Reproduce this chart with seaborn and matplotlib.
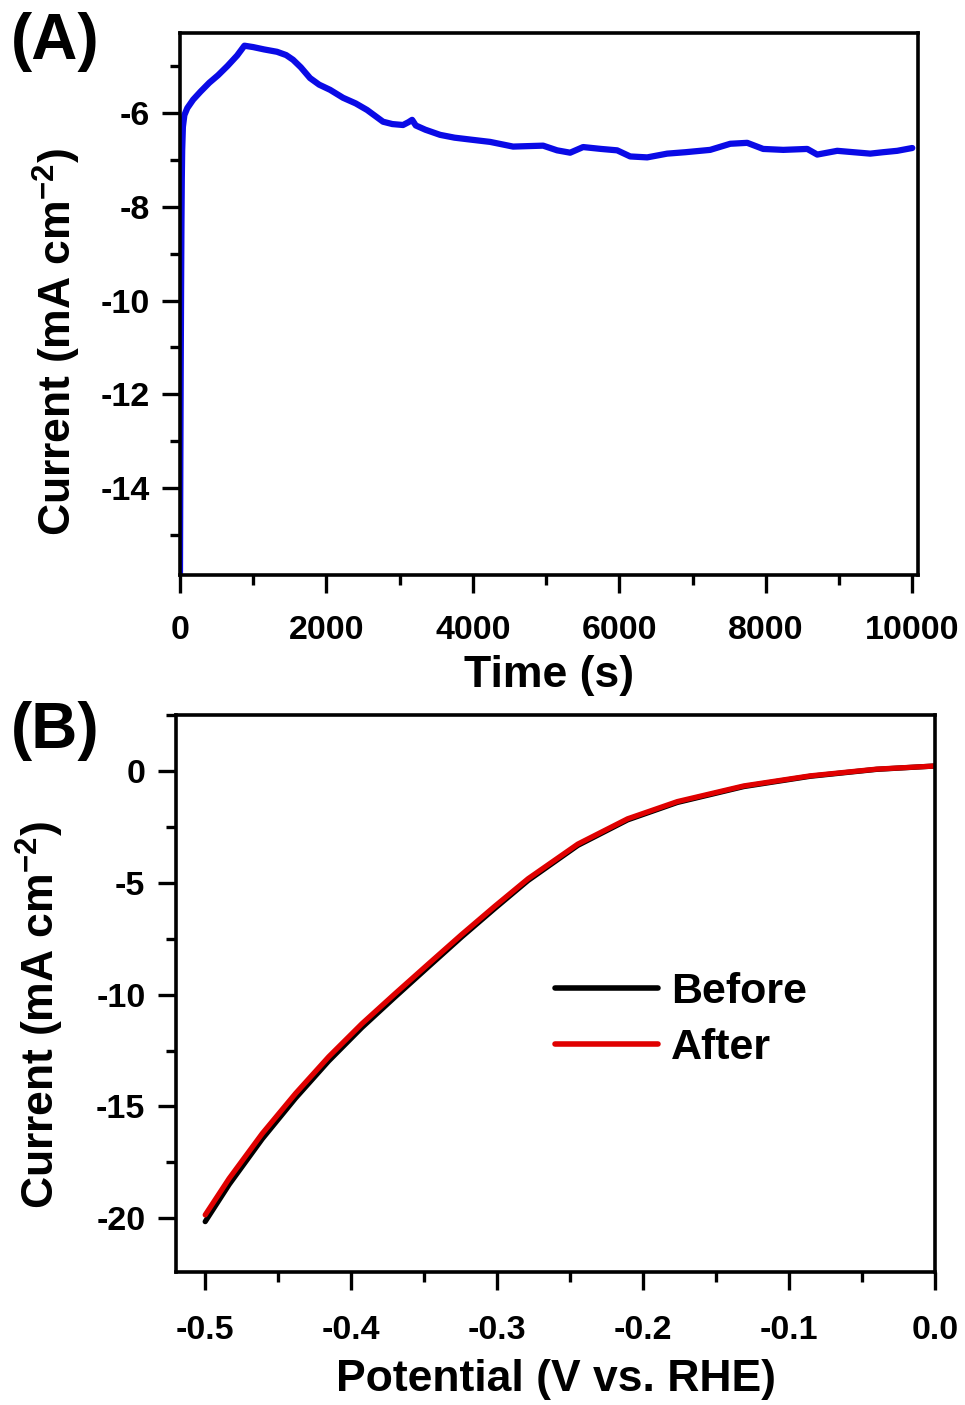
import matplotlib
matplotlib.use("Agg")
import matplotlib.pyplot as plt
from matplotlib.ticker import MultipleLocator, FixedLocator
import seaborn as sns
import pandas as pd

# ---------------- data ----------------
time_s = [0, 5, 10, 15, 20, 25, 30, 40, 60, 100, 180, 280, 400, 520, 650, 780, 880,
          1000, 1150, 1325, 1450, 1544, 1650, 1776, 1900, 2049, 2227, 2400, 2555,
          2773, 2900, 3046, 3120, 3170, 3220, 3350, 3552, 3750, 3962, 4235, 4549,
          4750, 4959, 5150, 5328, 5505, 5750, 5970, 6148, 6380, 6653, 6900, 7240,
          7514, 7746, 7964, 8238, 8566, 8702, 8975, 9200, 9426, 9600, 9795, 10000]
current_a = [-15.8, -13.5, -11.5, -9.8, -8.4, -7.4, -6.8, -6.3, -6.05, -5.9, -5.72,
             -5.55, -5.36, -5.2, -5.0, -4.78, -4.57, -4.6, -4.65, -4.70, -4.77,
             -4.87, -5.03, -5.26, -5.4, -5.51, -5.68, -5.8, -5.94, -6.19, -6.24,
             -6.26, -6.2, -6.15, -6.27, -6.36, -6.47, -6.53, -6.57, -6.62, -6.72,
             -6.71, -6.70, -6.80, -6.85, -6.73, -6.77, -6.80, -6.93, -6.95, -6.87,
             -6.84, -6.79, -6.66, -6.64, -6.77, -6.79, -6.77, -6.89, -6.81, -6.84,
             -6.87, -6.84, -6.81, -6.75]

potential = [-0.5, -0.4836, -0.4609, -0.4381, -0.4154, -0.3926, -0.3698, -0.3471,
             -0.3244, -0.3016, -0.2788, -0.2447, -0.2106, -0.1765, -0.131, -0.0855,
             -0.040, 0.0]
current_after = [-19.85, -18.22, -16.21, -14.42, -12.78, -11.30, -9.95, -8.63,
                 -7.32, -6.05, -4.82, -3.27, -2.14, -1.37, -0.67, -0.22, 0.08, 0.22]
current_before = [-20.15, -18.49, -16.45, -14.63, -12.97, -11.47, -10.10, -8.76,
                  -7.43, -6.15, -4.90, -3.33, -2.19, -1.41, -0.70, -0.24, 0.07, 0.22]

x_ticks_a = [0, 2000, 4000, 6000, 8000, 10000]
y_ticks_a = [-6, -8, -10, -12, -14]
x_ticks_b = [-0.5, -0.4, -0.3, -0.2, -0.1, 0.0]
y_ticks_b = [0, -5, -10, -15, -20]

# ---------------- style ----------------
sns.set_style("ticks")
plt.rcParams['font.family'] = ['Liberation Sans', 'DejaVu Sans']
plt.rcParams['font.weight'] = 'bold'
plt.rcParams['text.color'] = 'black'
plt.rcParams['axes.labelcolor'] = 'black'
plt.rcParams['xtick.color'] = 'black'
plt.rcParams['ytick.color'] = 'black'
plt.rcParams['axes.unicode_minus'] = False
plt.rcParams['mathtext.fontset'] = 'custom'
plt.rcParams['mathtext.rm'] = 'Liberation Sans:bold'
plt.rcParams['mathtext.bf'] = 'Liberation Sans:bold'
plt.rcParams['mathtext.it'] = 'Liberation Sans:bold'
plt.rcParams['mathtext.default'] = 'rm'

fig = plt.figure(figsize=(9.65, 14.05), dpi=100)
axA = fig.add_axes([0.1865, 0.5907, 0.9513 - 0.1865, 0.9765 - 0.5907])
axB = fig.add_axes([0.1824, 0.0947, 0.9689 - 0.1824, 0.4911 - 0.0947])

dfA = pd.DataFrame({"Time": time_s, "Current": current_a})
sns.lineplot(data=dfA, x="Time", y="Current", ax=axA, color="#0a0ae6", lw=4.5,
             estimator=None, sort=False)

dfB = pd.DataFrame({
    "Potential": potential * 2,
    "Current": current_before + current_after,
    "State": ["Before"] * len(potential) + ["After"] * len(potential),
})
sns.lineplot(data=dfB, x="Potential", y="Current", hue="State", ax=axB,
             palette={"Before": "#000000", "After": "#e00000"}, lw=3.8,
             estimator=None, sort=False)

for ax in (axA, axB):
    for s in ax.spines.values():
        s.set_linewidth(2.6)
        s.set_color("black")
    ax.tick_params(which="major", direction="out", length=13, width=2.4,
                   labelsize=24.5, pad=9, colors="black")
    ax.tick_params(which="minor", direction="out", length=7, width=2.4)

axA.tick_params(axis="x", which="major", pad=16)
axB.tick_params(axis="x", which="major", pad=18)

axA.set_xlim(0, 10078)
axA.set_ylim(-15.85, -4.3)
axA.xaxis.set_major_locator(FixedLocator(x_ticks_a))
axA.xaxis.set_minor_locator(MultipleLocator(1000))
axA.yaxis.set_major_locator(FixedLocator(y_ticks_a))
axA.yaxis.set_minor_locator(MultipleLocator(1))
axA.set_xlabel("Time (s)", fontsize=32, fontweight="bold", labelpad=6)
axA.set_ylabel(r"Current (mA cm$^{-2}$)", fontsize=32, fontweight="bold")
axA.yaxis.set_label_coords(-0.131, 0.43)

axB.set_xlim(-0.52, 0.0)
axB.set_ylim(-22.4, 2.5)
axB.xaxis.set_major_locator(FixedLocator(x_ticks_b))
axB.xaxis.set_minor_locator(MultipleLocator(0.05))
axB.yaxis.set_major_locator(FixedLocator(y_ticks_b))
axB.yaxis.set_minor_locator(MultipleLocator(2.5))
axB.set_xticklabels([f"{v:.1f}" for v in x_ticks_b])
axB.set_xlabel("Potential (V vs. RHE)", fontsize=32, fontweight="bold", labelpad=9)
axB.set_ylabel(r"Current (mA cm$^{-2}$)", fontsize=32, fontweight="bold")
axB.yaxis.set_label_coords(-0.145, 0.461)

for ax in (axA, axB):
    for lab in ax.get_xticklabels() + ax.get_yticklabels():
        lab.set_fontweight("bold")

leg = axB.legend(loc="center left", bbox_to_anchor=(0.448, 0.452), frameon=False,
                 handlelength=2.4, handletextpad=0.3, labelspacing=0.38,
                 prop={"weight": "bold", "size": 31})
for line in leg.get_lines():
    line.set_linewidth(4)

fig.text(0.057, 0.970, "(A)", fontsize=46, fontweight="bold", ha="center", va="center")
fig.text(0.057, 0.480, "(B)", fontsize=46, fontweight="bold", ha="center", va="center")

fig.savefig("out.png", dpi=100)
